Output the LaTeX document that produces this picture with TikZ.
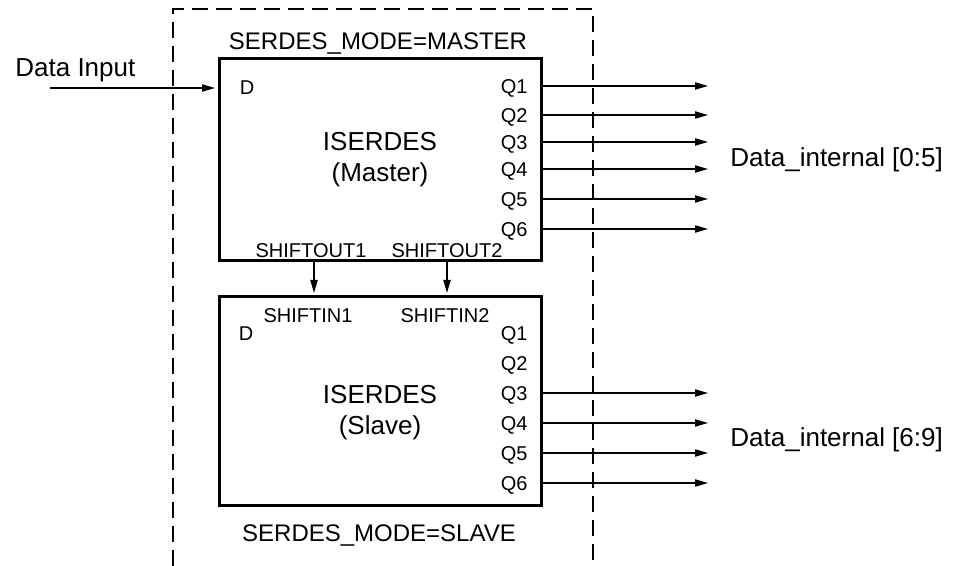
\documentclass[tikz,border=0pt]{standalone}
\usepackage{fontspec}
\setmainfont{Liberation Sans}
\usetikzlibrary{arrows.meta}
\begin{document}
\begin{tikzpicture}[x=0.5pt,y=-0.5pt,
  blk/.style={draw, line width=1.5pt, minimum width=161pt, inner sep=0pt, outer sep=0pt},
  pin/.style={font=\fontsize{10}{12}\selectfont, inner sep=0pt, text height=7.2pt, text depth=0pt},
  big/.style={font=\fontsize{13}{15}\selectfont, inner sep=0pt, text height=9.3pt, text depth=0pt},
  mode/.style={font=\fontsize{12}{14}\selectfont, inner sep=0pt, text height=8.6pt, text depth=0pt},
  arr/.style={line width=0.7pt, -{Triangle[length=6.5pt,width=3.6pt]}},
  frame/.style={line width=0.6pt, dash pattern=on 8pt off 4pt}]
\useasboundingbox (0,0) rectangle (954,566);
% dashed frame
\draw[frame] (173,566) -- (173,9) -- (593,9) -- (593,566);
% blocks
\node[blk, minimum height=101pt] (m) at (380,160) {};
\node[blk, minimum height=104.5pt] (s) at (380,401.5) {};
% texts
\node[mode] (mm) at (378,41) {SERDES\_MODE=MASTER};
\node[mode] (sm) at (379,533) {SERDES\_MODE=SLAVE};
\node[big] (mt1) at (380,141) {ISERDES};
\node[big] (mt2) at (380,172) {(Master)};
\node[big] (st1) at (380,394) {ISERDES};
\node[big] (st2) at (380,425) {(Slave)};
\node[big, anchor=west] (din) at (15,67) {Data Input};
\node[big, anchor=west] (dlo) at (730,157) {Data\_internal [0:5]};
\node[big, anchor=west] (dhi) at (730,437) {Data\_internal [6:9]};
\node[pin] (md) at (247,87) {D};
\node[pin] (sd) at (246,333) {D};
\node[pin] (so1) at (311,250) {SHIFTOUT1};
\node[pin] (so2) at (447,250) {SHIFTOUT2};
\node[pin] (si1) at (308,315) {SHIFTIN1};
\node[pin] (si2) at (445,315) {SHIFTIN2};
% master outputs
\foreach \i/\y in {1/86,2/115,3/142,4/169,5/199,6/229}{
  \node[pin, anchor=east] (mq\i) at (528,\y) {Q\i};
  \coordinate (mo\i) at (708,\y);
  \draw[arr] (m.east |- mo\i) -- (mo\i);
}
% slave outputs
\foreach \i/\y in {1/333,2/363,3/393,4/423,5/453,6/483}{
  \node[pin, anchor=east] (sq\i) at (528,\y) {Q\i};
}
\foreach \i/\y in {3/393,4/423,5/453,6/483}{
  \coordinate (so\i) at (708,\y);
  \draw[arr] (s.east |- so\i) -- (so\i);
}
% data input
\coordinate (dinstart) at (50,88);
\draw[arr, shorten >=2pt] (dinstart) -- (m.west |- dinstart);
% shift connections
\coordinate (sh1) at (314,0);
\coordinate (sh2) at (447,0);
\draw[arr, shorten >=2pt] (m.south -| sh1) -- (s.north -| sh1);
\draw[arr, shorten >=2pt] (m.south -| sh2) -- (s.north -| sh2);
\end{tikzpicture}
\end{document}
